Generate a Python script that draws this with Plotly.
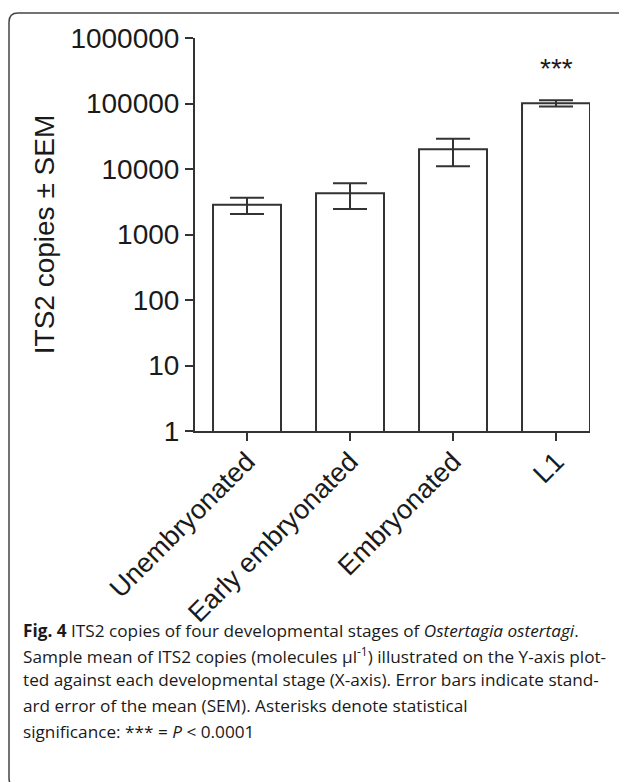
import plotly.graph_objects as go

# ---- data ----
stages = ["Unembryonated", "Early embryonated", "Embryonated", "L1"]
mean_copies = [2850, 4250, 20000, 101000]
sem_copies = [800, 1800, 9000, 11000]
y_tickvals = [1, 10, 100, 1000, 10000, 100000, 1000000]
y_ticktext = ["1", "10", "100", "1000", "10000", "100000", "1000000"]
sig_stage = "L1"
sig_label = "***"
sig_level_log = 5.53
y_title = "ITS2 copies ± SEM"
caption_lines = [
    "<b>Fig. 4</b> ITS2 copies of four developmental stages of <i>Ostertagia ostertagi</i>.",
    "Sample mean of ITS2 copies (molecules µl<sup>-1</sup>) illustrated on the Y-axis plot-",
    "ted against each developmental stage (X-axis). Error bars indicate stand-",
    "ard error of the mean (SEM). Asterisks denote statistical",
    "significance: *** = <i>P</i> &lt; 0.0001",
]

# ---- layout geometry (pixels); page has an 8px body margin ----
OFF = 8
W, H = 627 - OFF, 782 - OFF
PL, PR, PT, PB = 195, 590, 38, 431          # plot area in page pixels
L, R, T, B = PL - OFF, W - (PR - OFF), PT - OFF, H - (PB - OFF)
PW, PH = W - L - R, H - T - B


def px(x):
    return (x - OFF - L) / PW


def py(y):
    return (H - B - (y - OFF)) / PH


INK = "#333333"
TXT = "#1a1a1a"
FONT = "Liberation Sans, Arial, sans-serif"

fig = go.Figure()
fig.add_trace(go.Bar(
    x=stages,
    y=mean_copies,
    marker=dict(color="white", line=dict(color=INK, width=2)),
    error_y=dict(type="data", array=sem_copies, visible=True,
                 color=INK, thickness=2, width=17),
    showlegend=False,
))

fig.update_layout(
    width=W, height=H,
    margin=dict(l=L, r=R, t=T, b=B, pad=0),
    paper_bgcolor="white", plot_bgcolor="white",
    bargap=0.34,
    font=dict(family=FONT, size=28, color=TXT),
    xaxis=dict(
        type="category", range=[-0.505, 3.33],
        showline=True, linecolor=INK, linewidth=2,
        ticks="outside", ticklen=8, tickwidth=2, tickcolor=INK,
        tickangle=-45, tickfont=dict(size=27, family=FONT, color=TXT),
        ticklabelstandoff=-6,
        showgrid=False, zeroline=False,
    ),
    yaxis=dict(
        type="log", range=[0, 6],
        tickvals=y_tickvals, ticktext=y_ticktext,
        showline=True, linecolor=INK, linewidth=2,
        ticks="outside", ticklen=8, tickwidth=2, tickcolor=INK,
        tickfont=dict(size=28, family=FONT, color=TXT),
        showgrid=False, zeroline=False,
        title=dict(text=y_title, font=dict(size=28, family=FONT, color=TXT), standoff=8),
    ),
)

# significance marker
fig.add_annotation(x=sig_stage, y=sig_level_log, text=sig_label, showarrow=False,
                   xref="x", yref="y", font=dict(size=28, family=FONT, color=TXT),
                   yanchor="middle")

# figure border (rounded, cut off at right and bottom)
r = 9
path = (f"M {px(640)},{py(13)} L {px(9 + r)},{py(13)} "
        f"Q {px(9)},{py(13)} {px(9)},{py(13 + r)} "
        f"L {px(9)},{py(787 - r)} Q {px(9)},{py(787)} {px(9 + r)},{py(787)} "
        f"L {px(640)},{py(787)}")
fig.add_shape(type="path", path=path, xref="paper", yref="paper",
              line=dict(color="#444444", width=1.5), layer="above")

# caption
cap_y = [630, 655, 680, 705, 731]
for txt, yy in zip(caption_lines, cap_y):
    fig.add_annotation(x=px(21), y=py(yy), xref="paper", yref="paper",
                       text=txt, showarrow=False, xanchor="left", yanchor="middle",
                       align="left",
                       font=dict(size=17.2, family="Open Sans, sans-serif", color=TXT))

fig.write_html("out.html")
